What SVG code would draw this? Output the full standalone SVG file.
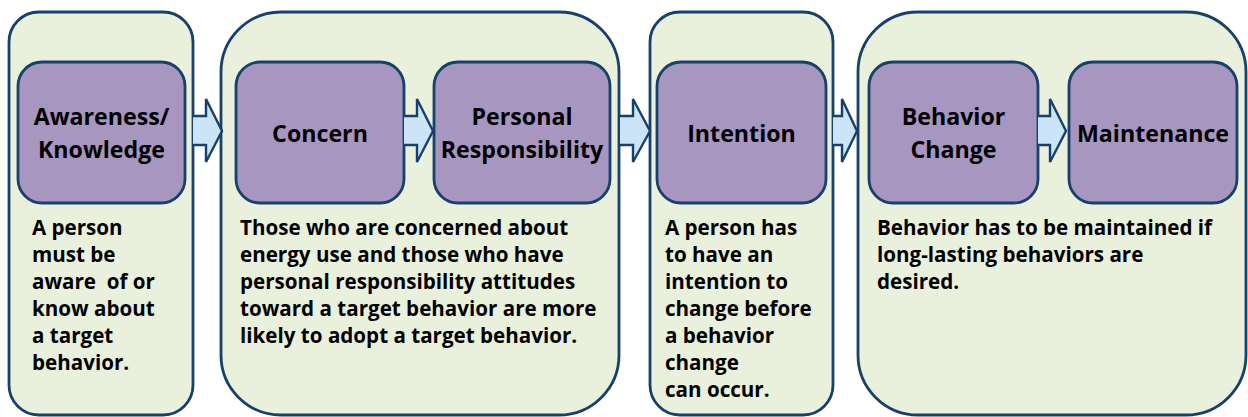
<svg xmlns="http://www.w3.org/2000/svg" width="1248" height="417" viewBox="0 0 1248 417">
  <style>
    .stage { fill: #e9f0dc; stroke: #17406b; stroke-width: 2.8; }
    .step { fill: #a796bf; stroke: #17406b; stroke-width: 2.8; }
    .arrow { fill: #cce4f8; stroke: #17406b; stroke-width: 2.4; stroke-linejoin: miter; }
    .title { font-family: "Open Sans", Lato, sans-serif; font-weight: bold; font-size: 23.2px; fill: #000; text-anchor: middle; }
    .body { font-family: "Open Sans", Lato, sans-serif; font-weight: bold; font-size: 20.6px; fill: #000; white-space: pre; }
  </style>

  <!-- Stage 1: awareness -->
  <g id="stage-awareness">
    <rect class="stage" x="9" y="12" width="184" height="403" rx="30" ry="30"/>
    <g id="node-awareness">
      <rect class="step" x="18" y="62" width="167" height="141" rx="24" ry="24"/>
      <text class="title" x="101.5" y="125">Awareness/</text>
      <text class="title" x="101.5" y="158">Knowledge</text>
    </g>
    <text class="body" x="32" y="235">A person</text>
    <text class="body" x="32" y="262">must be</text>
    <text class="body" x="32" y="289">aware  of or</text>
    <text class="body" x="32" y="316">know about</text>
    <text class="body" x="32" y="343">a target</text>
    <text class="body" x="32" y="370">behavior.</text>
  </g>

  <!-- Stage 2: concern and personal responsibility -->
  <g id="stage-attitudes">
    <rect class="stage" x="221" y="12" width="398" height="403" rx="60" ry="60"/>
    <g id="node-concern">
      <rect class="step" x="236" y="62" width="168" height="141" rx="24" ry="24"/>
      <text class="title" x="320" y="142">Concern</text>
    </g>
    <g id="node-responsibility">
      <rect class="step" x="434" y="62" width="176" height="141" rx="24" ry="24"/>
      <text class="title" x="522" y="125">Personal</text>
      <text class="title" x="522" y="158">Responsibility</text>
    </g>
    <text class="body" x="240" y="235">Those who are concerned about</text>
    <text class="body" x="240" y="262">energy use and those who have</text>
    <text class="body" x="240" y="289">personal responsibility attitudes</text>
    <text class="body" x="240" y="316">toward a target behavior are more</text>
    <text class="body" x="240" y="343">likely to adopt a target behavior.</text>
  </g>

  <!-- Stage 3: intention -->
  <g id="stage-intention">
    <rect class="stage" x="650" y="12" width="183" height="403" rx="30" ry="30"/>
    <g id="node-intention">
      <rect class="step" x="657" y="62" width="169" height="141" rx="24" ry="24"/>
      <text class="title" x="741.5" y="142">Intention</text>
    </g>
    <text class="body" x="665" y="235">A person has</text>
    <text class="body" x="665" y="262">to have an</text>
    <text class="body" x="665" y="289">intention to</text>
    <text class="body" x="665" y="316">change before</text>
    <text class="body" x="665" y="343">a behavior</text>
    <text class="body" x="665" y="370">change</text>
    <text class="body" x="665" y="397">can occur.</text>
  </g>

  <!-- Stage 4: behaviour change and maintenance -->
  <g id="stage-behavior">
    <rect class="stage" x="858" y="12" width="388" height="403" rx="60" ry="60"/>
    <g id="node-change">
      <rect class="step" x="869" y="62" width="169" height="141" rx="24" ry="24"/>
      <text class="title" x="953.5" y="125">Behavior</text>
      <text class="title" x="953.5" y="158">Change</text>
    </g>
    <g id="node-maintenance">
      <rect class="step" x="1069" y="62" width="168" height="141" rx="24" ry="24"/>
      <text class="title" x="1153" y="142">Maintenance</text>
    </g>
    <text class="body" x="877" y="235">Behavior has to be maintained if</text>
    <text class="body" x="877" y="262">long-lasting behaviors are</text>
    <text class="body" x="877" y="289">desired.</text>
  </g>

  <!-- Block arrows between steps -->
  <g id="connectors">
    <path class="arrow" d="M193,116 H206 V99 L222,131 L206,162 V145 H193"/>
    <path class="arrow" d="M404,116 H417 V99 L433,131 L417,162 V145 H404"/>
    <path class="arrow" d="M620,116 H633 V99 L650,131 L633,162 V145 H620"/>
    <path class="arrow" d="M833,116 H842 V99 L857,131 L842,162 V145 H833"/>
    <path class="arrow" d="M1038,116 H1050 V99 L1066,131 L1050,162 V145 H1038"/>
  </g>
</svg>
